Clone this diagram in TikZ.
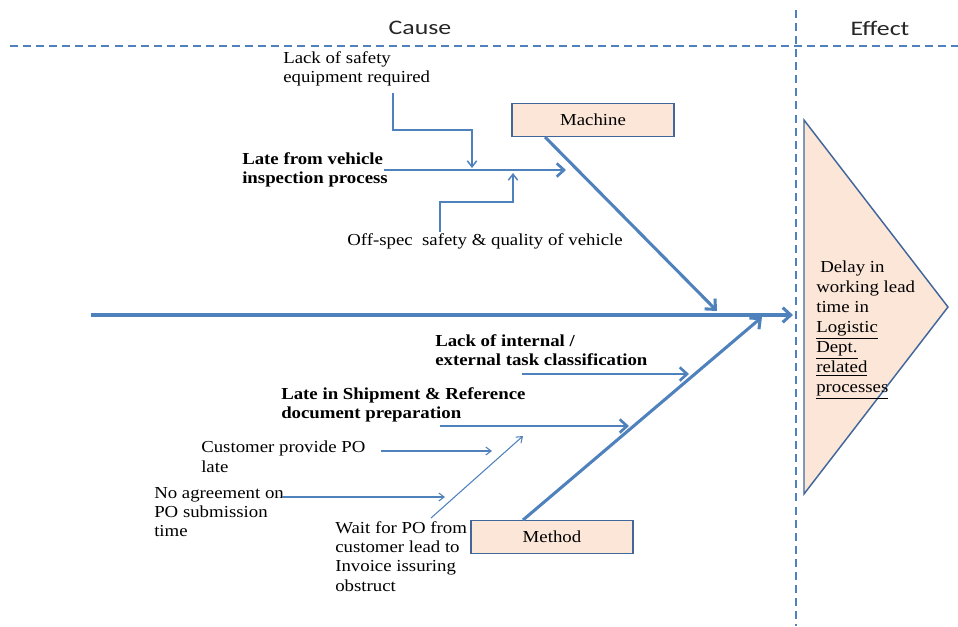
\documentclass[tikz,border=0pt]{standalone}
\usepackage{fontspec}
\setmainfont{Liberation Serif}[FakeStretch=1.12]
\newfontfamily\headfont{Carlito}[FakeStretch=1.25]
\usetikzlibrary{arrows.meta}

\definecolor{bonecol}{HTML}{4F81BD}
\definecolor{boxfill}{HTML}{FCE6D8}
\definecolor{boxedge}{HTML}{41679A}

\newcommand{\labelfont}{\fontsize{12.6}{14.5}\selectfont}
\newcommand{\effectfont}{\fontsize{12.6}{15}\selectfont}

\begin{document}
\begin{tikzpicture}[x=0.75pt,y=-0.75pt,
  bone/.style={draw=bonecol, line width=2.3pt, -{Straight Barb[length=6pt,width=11pt]}},
  rib/.style={draw=bonecol, line width=2pt, -{Straight Barb[length=5.5pt,width=10pt]}},
  twig/.style={draw=bonecol, line width=1.1pt, -{Straight Barb[length=4.5pt,width=7pt]}},
  fine/.style={draw=bonecol, line width=0.8pt, -{Straight Barb[length=4pt,width=6pt]}},
  divider/.style={draw=bonecol, line width=1.1pt, dash pattern=on 6pt off 3.8pt},
  catbox/.style={draw=boxedge, fill=boxfill, line width=1.2pt, minimum width=121.5pt,
    minimum height=25pt, inner sep=0pt, font=\labelfont},
  lbl/.style={anchor=north west, inner sep=0pt, align=left, font=\labelfont},
  head/.style={inner sep=0pt, font=\headfont\fontsize{15.5}{18}\selectfont, text=black!85}]

\useasboundingbox (0,0) rectangle (958,626);

% section dividers and headings
\draw[divider] (10,46) -- (958,46);
\draw[divider] (796,10) -- (796,626);
\node[head] (cause) at (420,28) {Cause};
\node[head] (effect) at (880,28) {Effect};

% effect head
\filldraw[draw=boxedge, fill=boxfill, line width=1.1pt]
  (804,120) -- (948,307) -- (804,494) -- cycle;
\node[lbl, font=\effectfont] (effecttext) at (816,261)
  {\hspace{3pt}Delay in\\working lead\\time in\\\underline{Logistic}\\\underline{Dept.}\\\underline{related}\\\underline{processes}};

% spine
\coordinate (tail) at (91,315);
\coordinate (head) at (793,315);
\draw[bone] (tail) -- (head);

% category boxes
\node[catbox] (machine) at (593,120) {Machine};
\node[catbox] (method) at (552,537) {Method};

% main bones
\coordinate (mfoot) at (545,137);
\coordinate (mtip) at (717,311);
\draw[bone] (mfoot) -- (mtip);
\coordinate (dfoot) at (523,520);
\coordinate (dtip) at (762,317);
\draw[bone] (dfoot) -- (dtip);

% machine causes
\node[lbl, font=\labelfont\bfseries] (vehicle) at (242,152) {Late from vehicle\\inspection process};
\coordinate (vstart) at (384,170);
\coordinate (vend) at (566,170);
\draw[rib] (vstart) -- (vend);

\node[lbl] (safety) at (283,51) {Lack of safety\\equipment required};
\coordinate (sstart) at (393,93);
\coordinate (send) at (472,168);
\draw[twig] (sstart) |- (472,130) -- (send);

\node[lbl] (offspec) at (347,233) {Off-spec\ \ safety \& quality of vehicle};
\coordinate (ostart) at (440,232);
\coordinate (oend) at (513,173);
\draw[twig] (ostart) |- (513,202) -- (oend);

% method causes
\node[lbl, font=\labelfont\bfseries] (classify) at (435,334) {Lack of internal /\\external task classification};
\coordinate (cstart) at (522,374);
\coordinate (cend) at (689,374);
\draw[rib] (cstart) -- (cend);

\node[lbl, font=\labelfont\bfseries] (shipment) at (281,387) {Late in Shipment \& Reference\\document preparation};
\coordinate (hstart) at (440,426);
\coordinate (hend) at (629,426);
\draw[rib] (hstart) -- (hend);

\node[lbl] (customer) at (201,441) {Customer provide PO\\late};
\coordinate (pstart) at (381,451);
\coordinate (pend) at (492,451);
\draw[fine] (pstart) -- (pend);

\node[lbl] (agreement) at (154,487) {No agreement on\\PO submission\\time};
\coordinate (astart) at (282,497);
\coordinate (aend) at (445,497);
\draw[fine] (astart) -- (aend);

\node[lbl] (waitpo) at (335,521) {Wait for PO from\\customer lead to\\Invoice issuring\\obstruct};
\coordinate (wstart) at (431,518);
\coordinate (wend) at (523,436);
\draw[fine] (wstart) -- (wend);

\end{tikzpicture}
\end{document}
